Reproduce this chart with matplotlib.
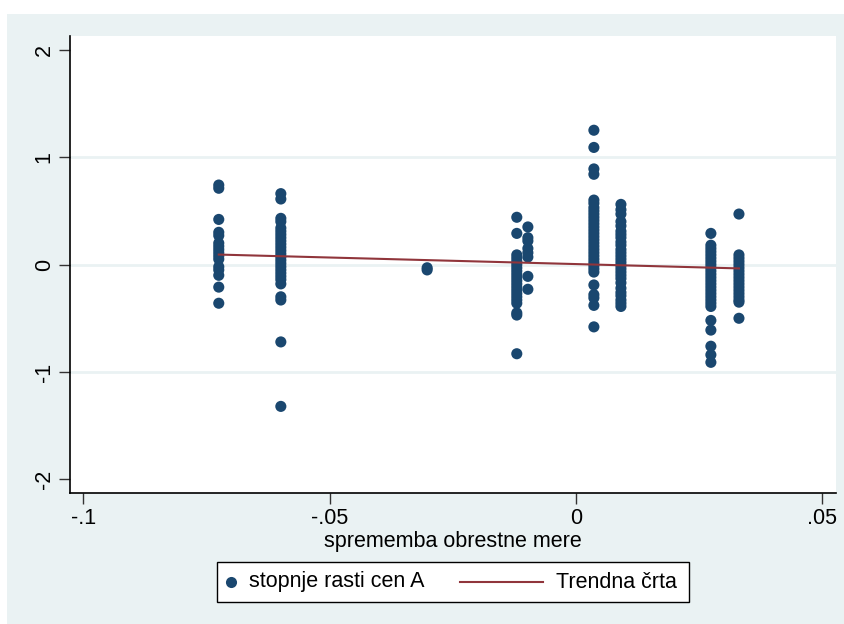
"""Scatter of price growth rates against interest rate changes, with trend line."""

import numpy as np
import matplotlib.pyplot as plt
from matplotlib.patches import Rectangle
from matplotlib.lines import Line2D

# Colours (Stata s2color look)
NAVY = '#1A476F'
MAROON = '#90353B'
BG = '#EAF2F3'

plt.rcParams['font.family'] = ['Liberation Sans', 'DejaVu Sans']

# Data: x value of each column and the y values
x_levels = [-0.0725, -0.0599, -0.0302, -0.0120, -0.00975,
            0.00365, 0.00914, 0.0274, 0.0331]

col1 = [0.74, 0.71, 0.42, 0.30, 0.27, 0.20, 0.17, 0.14, 0.11, 0.08, 0.05,
        -0.02, -0.05, -0.10, -0.21, -0.36]
col2 = [0.66, 0.61, 0.43, 0.40, 0.34, 0.31, 0.28, 0.25, 0.22, 0.19, 0.16,
        0.13, 0.10, 0.07, 0.04, 0.01, -0.02, -0.05, -0.08, -0.11, -0.14,
        -0.18, -0.30, -0.33, -0.72, -1.32]
col3 = [-0.03, -0.05]
col4 = [0.44, 0.29, 0.09, 0.06, 0.03, 0.00, -0.03, -0.06, -0.09, -0.12,
        -0.15, -0.18, -0.21, -0.24, -0.27, -0.30, -0.33, -0.36, -0.45,
        -0.47, -0.83]
col5 = [0.35, 0.25, 0.22, 0.15, 0.11, 0.07, -0.11, -0.23]
col6 = [1.25, 1.09, 0.89, 0.84, 0.60, 0.57, 0.53, 0.50, 0.47, 0.44, 0.41,
        0.38, 0.35, 0.32, 0.29, 0.26, 0.23, 0.20, 0.17, 0.14, 0.11, 0.08,
        0.05, 0.02, -0.01, -0.04, -0.07, -0.19, -0.28, -0.31, -0.38, -0.58]
col7 = [0.56, 0.51, 0.47, 0.40, 0.36, 0.31, 0.28, 0.25, 0.21, 0.18, 0.14,
        0.11, 0.08, 0.05, 0.02, -0.01, -0.04, -0.07, -0.10, -0.13, -0.17,
        -0.22, -0.26, -0.29, -0.33, -0.36, -0.39]
col8 = [0.29, 0.18, 0.15, 0.12, 0.09, 0.06, 0.03, 0.00, -0.03, -0.06,
        -0.09, -0.12, -0.15, -0.18, -0.21, -0.24, -0.27, -0.30, -0.33,
        -0.36, -0.39, -0.52, -0.61, -0.76, -0.84, -0.91]
col9 = [0.47, 0.09, 0.06, 0.03, 0.00, -0.03, -0.06, -0.09, -0.12, -0.15,
        -0.18, -0.21, -0.24, -0.27, -0.30, -0.33, -0.35, -0.50]
columns = [col1, col2, col3, col4, col5, col6, col7, col8, col9]

# Fitted trend line
trend_intercept = 0.0045
trend_slope = -1.22

xticks = [-0.1, -0.05, 0, 0.05]
xtick_labels = ['-.1', '-.05', '0', '.05']
yticks = [-2, -1, 0, 1, 2]
ytick_labels = ['-2', '-1', '0', '1', '2']
legend_labels = ['stopnje rasti cen A', 'Trendna črta']

FS = 15.5


def main():
    W, H = 845, 624
    fig = plt.figure(figsize=(W / 100, H / 100), dpi=100)
    fig.patch.set_facecolor('white')
    fig.patches.append(Rectangle((7 / W, 0), 1, 1 - 14 / H,
                                 transform=fig.transFigure,
                                 facecolor=BG, edgecolor='none', zorder=-10))

    ax = fig.add_axes([70 / W, (H - 493) / H, (836 - 70) / W, (493 - 36) / H])
    ax.set_facecolor('white')

    xs = np.concatenate([[x] * len(c) for x, c in zip(x_levels, columns)])
    ys = np.concatenate(columns)
    ax.scatter(xs, ys, s=64, color=NAVY, edgecolors='none', zorder=3)

    tx = np.array([min(x_levels), max(x_levels)])
    ax.plot(tx, trend_intercept + trend_slope * tx, color=MAROON, lw=1.5,
            zorder=4)

    ax.set_xlim(-0.1027, 0.0528)
    ax.set_ylim(-2.126, 2.127)

    for g in [-1, 0, 1]:
        ax.axhline(g, color=BG, lw=2, zorder=1)

    for side in ['top', 'right']:
        ax.spines[side].set_visible(False)
    for side in ['left', 'bottom']:
        ax.spines[side].set_color('black')
        ax.spines[side].set_linewidth(1.2)

    ax.set_xticks(xticks)
    ax.set_xticklabels(xtick_labels)
    ax.set_yticks(yticks)
    ax.set_yticklabels(ytick_labels, rotation=90, va='center')
    ax.tick_params(length=8, width=1, color='#333333', labelsize=FS, pad=3)
    ax.set_xlabel('sprememba obrestne mere', fontsize=FS, labelpad=1)

    # Legend box drawn by hand (Stata style: small dot, long line key)
    def fx(px):
        return px / W

    def fy(py):
        return 1 - py / H

    fig.patches.append(Rectangle((fx(217), fy(602)), fx(689) - fx(217),
                                 fy(562) - fy(602), transform=fig.transFigure,
                                 facecolor='white', edgecolor='black',
                                 lw=1.0, zorder=5))
    ymid = fy(582)
    fig.add_artist(Line2D([fx(231)], [ymid], marker='o', markersize=8,
                          color=NAVY, markeredgewidth=0, linestyle='none',
                          zorder=6))
    fig.text(fx(249), ymid, legend_labels[0], fontsize=FS, va='center',
             ha='left', zorder=6)
    fig.add_artist(Line2D([fx(460), fx(543)], [ymid, ymid], color=MAROON,
                          lw=1.5, zorder=6))
    fig.text(fx(556), ymid, legend_labels[1], fontsize=FS, va='center',
             ha='left', zorder=6)

    fig.savefig('out.png', dpi=100, facecolor=fig.get_facecolor())


if __name__ == '__main__':
    main()
